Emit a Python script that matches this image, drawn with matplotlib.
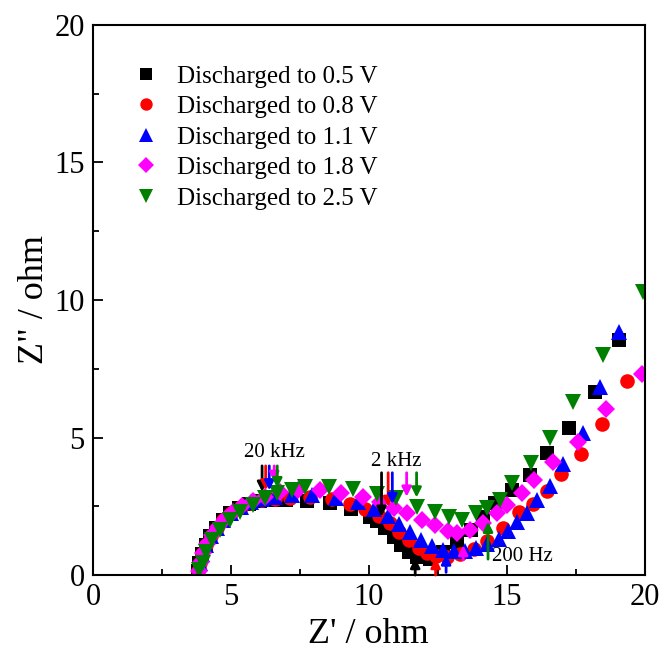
import matplotlib
matplotlib.use("Agg")
import matplotlib.pyplot as plt
from matplotlib.ticker import MultipleLocator

plt.rcParams['font.family'] = ['Liberation Serif', 'DejaVu Serif']

# Nyquist data (Z' , -Z'')
x_05 = [3.80, 3.86, 3.95, 4.08, 4.25, 4.45, 4.70, 4.98, 5.30, 5.65, 6.05, 6.50, 7.00, 7.75,
        8.60, 9.35, 10.05, 10.30, 10.60, 10.90, 11.15, 11.45, 11.75, 12.20, 12.70, 13.20,
        13.70, 14.15, 14.57, 15.20, 15.83, 16.45, 17.25, 18.19, 19.06]
y_05 = [0.15, 0.45, 0.78, 1.10, 1.42, 1.72, 2.00, 2.25, 2.45, 2.60, 2.70, 2.74, 2.72, 2.70,
        2.62, 2.40, 2.10, 1.95, 1.70, 1.40, 1.10, 0.85, 0.65, 0.60, 0.85, 1.20,
        1.65, 2.10, 2.62, 3.10, 3.64, 4.43, 5.35, 6.65, 8.55]

x_08 = [3.82, 3.88, 3.97, 4.10, 4.27, 4.48, 4.73, 5.02, 5.35, 5.72, 6.12, 6.60, 7.15, 7.86,
        8.65, 9.30, 9.85, 10.35, 10.75, 11.10, 11.45, 11.80, 12.10, 12.45, 12.85, 13.30,
        13.80, 14.30, 14.85, 15.43, 15.94, 16.45, 16.96, 17.68, 18.44, 19.35]
y_08 = [0.15, 0.45, 0.78, 1.10, 1.42, 1.72, 2.00, 2.25, 2.47, 2.62, 2.72, 2.78, 2.82, 2.84,
        2.78, 2.60, 2.40, 2.15, 1.88, 1.58, 1.28, 1.00, 0.80, 0.68, 0.66, 0.75,
        0.95, 1.25, 1.70, 2.29, 2.58, 3.05, 3.67, 4.40, 5.49, 7.05]

x_11 = [3.82, 3.88, 3.97, 4.10, 4.27, 4.48, 4.73, 5.02, 5.35, 5.72, 6.12, 6.60, 7.20, 7.95,
        8.80, 9.60, 10.20, 10.70, 11.10, 11.50, 11.90, 12.30, 12.70, 13.10, 13.50, 13.90,
        14.30, 14.70, 15.05, 15.36, 15.72, 16.09, 16.56, 17.03, 17.75, 18.37, 19.06]
y_11 = [0.15, 0.45, 0.78, 1.10, 1.42, 1.72, 2.00, 2.25, 2.47, 2.64, 2.76, 2.85, 2.90, 2.90,
        2.82, 2.65, 2.42, 2.15, 1.85, 1.55, 1.28, 1.05, 0.92, 0.86, 0.88, 0.98,
        1.12, 1.32, 1.62, 1.93, 2.25, 2.73, 3.24, 4.04, 5.16, 6.84, 8.84]

x_18 = [3.84, 3.90, 3.99, 4.12, 4.30, 4.52, 4.78, 5.08, 5.42, 5.80, 6.22, 6.78, 7.45, 8.22,
        9.00, 9.80, 10.40, 10.90, 11.37, 11.92, 12.39, 12.86, 13.20, 13.66, 14.13, 14.64,
        15.00, 15.54, 15.98, 16.67, 17.57, 18.59, 19.90]
y_18 = [0.15, 0.46, 0.80, 1.12, 1.45, 1.76, 2.04, 2.30, 2.52, 2.70, 2.85, 3.02, 3.08, 3.09,
        2.98, 2.84, 2.65, 2.45, 2.25, 2.00, 1.82, 1.62, 1.53, 1.64, 1.89, 2.25,
        2.55, 2.98, 3.45, 4.11, 4.84, 6.04, 7.30]

x_25 = [3.86, 3.99, 4.08, 4.30, 4.60, 4.96, 5.33, 5.80, 6.25, 6.68, 7.20, 7.70, 8.55, 9.42,
        10.29, 11.00, 11.74, 12.39, 12.90, 13.37, 13.90, 14.30, 14.75, 15.18, 15.87, 16.56,
        17.40, 18.50, 19.92]
y_25 = [0.20, 0.45, 0.84, 1.27, 1.64, 2.00, 2.29, 2.55, 2.80, 2.98, 3.10, 3.20, 3.22, 3.12,
        2.95, 2.80, 2.47, 2.29, 2.11, 2.02, 2.25, 2.44, 2.73, 3.34, 4.07, 5.00,
        6.30, 8.00, 10.30]

labels = ['Discharged to 0.5 V', 'Discharged to 0.8 V', 'Discharged to 1.1 V',
          'Discharged to 1.8 V', 'Discharged to 2.5 V']
colors = ['black', 'red', 'blue', 'magenta', 'green']
markers = ['s', 'o', '^', 'D', 'v']
sizes = [9.5, 10.5, 12, 9.5, 12]
series_x = [x_05, x_08, x_11, x_18, x_25]
series_y = [y_05, y_08, y_11, y_18, y_25]

# frequency marker arrows (x, tail y, tip y) per series
khz20_x = [6.13, 6.26, 6.39, 6.57, 6.68]
khz20_tip = [3.03, 3.08, 3.08, 3.39, 3.16]
khz20_tail = 3.97
khz2_x = [10.46, 10.70, 10.85, 11.37, 11.73]
khz2_tip = [2.12, 2.48, 2.58, 2.85, 2.82]
khz2_tail = 3.72
hz200_x = [11.68, 12.42, 12.80, 13.42, 14.32]
hz200_tail = [0.0, 0.0, 0.1, 0.55, 0.58]
hz200_tip = [0.62, 0.62, 0.75, 1.09, 1.94]

fig = plt.figure(figsize=(6.64, 6.55), dpi=100)
ax = fig.add_axes([0.140, 0.122, 0.831, 0.840])

for xs, ys, c, m, s, lab in zip(series_x, series_y, colors, markers, sizes, labels):
    ax.plot(xs, ys, linestyle='none', marker=m, color=c, markersize=s,
            markeredgewidth=0, label=lab)

def arrow(x, y0, y1, c):
    ax.annotate('', xy=(x, y1), xytext=(x, y0),
                arrowprops=dict(arrowstyle='-|>', color=c, lw=2.0,
                                mutation_scale=14, shrinkA=0, shrinkB=0))

for i, c in enumerate(colors):
    arrow(khz20_x[i], khz20_tail, khz20_tip[i], c)
    arrow(khz2_x[i], khz2_tail, khz2_tip[i], c)
    arrow(hz200_x[i], hz200_tail[i], hz200_tip[i], c)

ax.text(6.57, 4.46, '20 kHz', fontsize=15, ha='center', va='center')
ax.text(11.0, 4.12, '2 kHz', fontsize=15, ha='center', va='center')
ax.text(14.45, 0.69, '200 Hz', fontsize=15, ha='left', va='center')

ax.set_xlim(0, 20)
ax.set_ylim(0, 20)
ax.xaxis.set_major_locator(MultipleLocator(5))
ax.xaxis.set_minor_locator(MultipleLocator(2.5))
ax.yaxis.set_major_locator(MultipleLocator(5))
ax.yaxis.set_minor_locator(MultipleLocator(2.5))
ax.tick_params(which='both', direction='in', top=False, right=False, width=1.3)
ax.tick_params(which='major', length=7, labelsize=22, pad=6)
ax.tick_params(which='minor', length=4)
for sp in ax.spines.values():
    sp.set_linewidth(1.5)

ax.set_xlabel("Z' / ohm", fontsize=26, labelpad=4)
ax.set_ylabel('Z" / ohm', fontsize=26, labelpad=2)

ax.legend(loc='upper left', bbox_to_anchor=(0.056, 0.945), frameon=False,
          fontsize=18, handletextpad=0.72, labelspacing=0.32, borderaxespad=0,
          handlelength=1.0, markerscale=0.85)

fig.savefig('out.png', dpi=100)
